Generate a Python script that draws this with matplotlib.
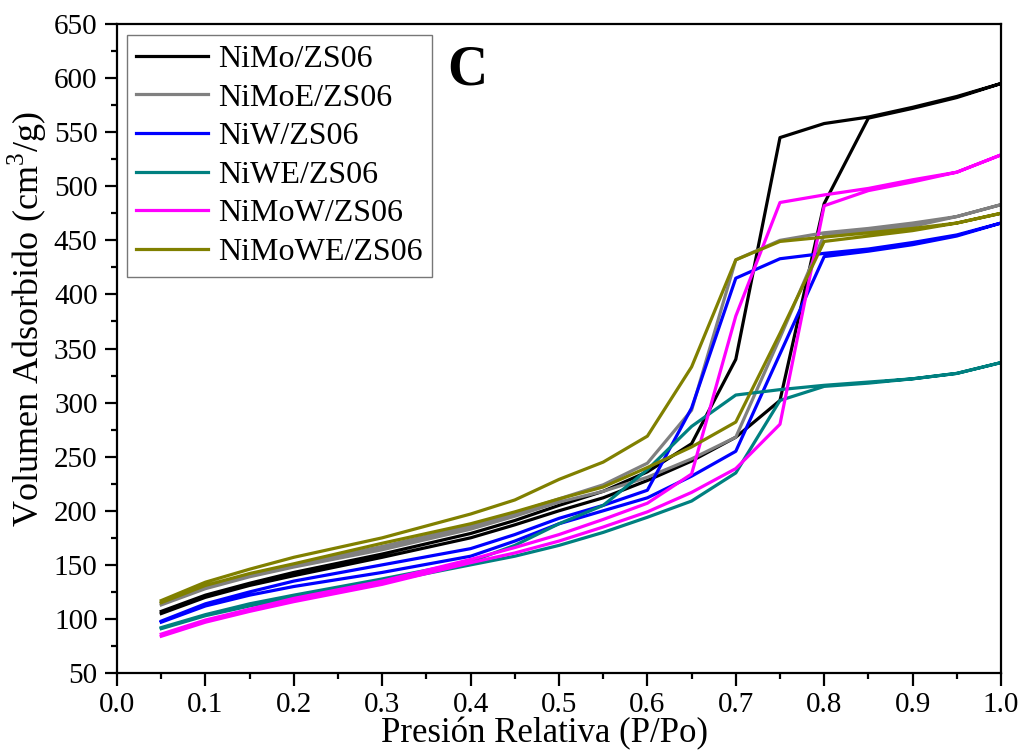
import numpy as np
import matplotlib.pyplot as plt

plt.rcParams['font.family'] = ['Liberation Serif', 'DejaVu Serif']
plt.rcParams['mathtext.fontset'] = 'custom'
plt.rcParams['mathtext.rm'] = 'Liberation Serif'

# relative pressure grid (adsorption goes up, desorption comes back down)
p_rel = [0.05, 0.1, 0.15, 0.2, 0.3, 0.4, 0.45, 0.5, 0.55, 0.6, 0.65, 0.7, 0.75, 0.8, 0.85, 0.9, 0.95, 1.0]

labels = ['NiMo/ZS06', 'NiMoE/ZS06', 'NiW/ZS06', 'NiWE/ZS06', 'NiMoW/ZS06', 'NiMoWE/ZS06']
colors = ['#000000', '#808080', '#0000ff', '#008080', '#ff00ff', '#808000']

nimo_ads = [105, 120, 131, 140, 157, 175, 187, 200, 212, 228, 246, 268, 302, 484, 563, 572, 582, 595]
nimo_des = [107, 122, 133, 143, 160, 179, 191, 205, 218, 236, 262, 340, 545, 558, 564, 573, 583, 595]

nimoe_ads = [113, 128, 139, 148, 164, 183, 195, 208, 218, 231, 248, 268, 360, 455, 459, 463, 472, 483]
nimoe_des = [115, 130, 141, 150, 167, 186, 198, 211, 224, 244, 293, 432, 450, 457, 461, 466, 472, 483]

niw_ads = [97, 112, 122, 130, 143, 158, 172, 188, 200, 212, 232, 255, 345, 435, 440, 446, 454, 466]
niw_des = [98, 114, 125, 135, 150, 165, 178, 193, 205, 219, 295, 415, 433, 438, 442, 448, 455, 466]

niwe_ads = [91, 103, 112, 120, 134, 150, 158, 168, 180, 194, 209, 235, 302, 315, 318, 322, 327, 337]
niwe_des = [92, 104, 114, 122, 137, 153, 168, 188, 205, 238, 278, 307, 312, 316, 319, 322, 327, 337]

nimow_ads = [84, 97, 107, 116, 132, 152, 161, 172, 185, 199, 217, 239, 280, 482, 496, 504, 513, 529]
nimow_des = [86, 99, 109, 119, 135, 155, 166, 178, 192, 207, 234, 380, 485, 492, 498, 506, 513, 529]

nimowe_ads = [115, 131, 142, 151, 170, 188, 199, 211, 222, 240, 259, 282, 364, 449, 454, 459, 466, 475]
nimowe_des = [117, 134, 146, 157, 175, 197, 210, 229, 245, 269, 333, 432, 449, 453, 457, 461, 466, 475]

series = [(nimo_ads, nimo_des), (nimoe_ads, nimoe_des), (niw_ads, niw_des),
          (niwe_ads, niwe_des), (nimow_ads, nimow_des), (nimowe_ads, nimowe_des)]

fig = plt.figure(figsize=(10.24, 7.53), dpi=100)
ax = fig.add_axes([0.1143, 0.1062, 0.8632, 0.8619])

for (ads, des), lab, col in zip(series, labels, colors):
    x = list(p_rel) + list(p_rel[::-1])
    y = list(ads) + list(des[::-1])
    ax.plot(x, y, color=col, lw=2.3, label=lab)

ax.set_xlim(0, 1.0)
ax.set_ylim(50, 650)
ax.set_xticks(np.arange(0, 1.01, 0.1))
ax.set_yticks(np.arange(50, 651, 50))
ax.set_xticks(np.arange(0.05, 1.0, 0.1), minor=True)
ax.set_yticks(np.arange(75, 650, 50), minor=True)
ax.tick_params(which='both', direction='out', labelsize=21, width=1.6, top=False, right=False)
ax.tick_params(which='major', length=9, pad=5)
ax.tick_params(which='minor', length=4.5)
for s in ax.spines.values():
    s.set_linewidth(1.6)

ax.set_xlabel('Presión Relativa (P/Po)', fontsize=25)
ax.set_ylabel('Volumen Adsorbido (cm$^3$/g)', fontsize=26)
ax.xaxis.set_label_coords(0.484, -0.068)
ax.yaxis.set_label_coords(-0.077, 0.545)

ax.text(0.396, 0.929, 'C', transform=ax.transAxes, fontsize=40, fontweight='bold',
        ha='center', va='center')

leg = ax.legend(loc='upper left', fontsize=23, handlelength=2.25, frameon=True,
                fancybox=False, edgecolor='#555555', borderpad=0.3,
                labelspacing=0.29, handletextpad=0.3, borderaxespad=0,
                bbox_to_anchor=(0.011, 0.983))
leg.get_frame().set_linewidth(1.0)

fig.savefig('out.png', dpi=100)
